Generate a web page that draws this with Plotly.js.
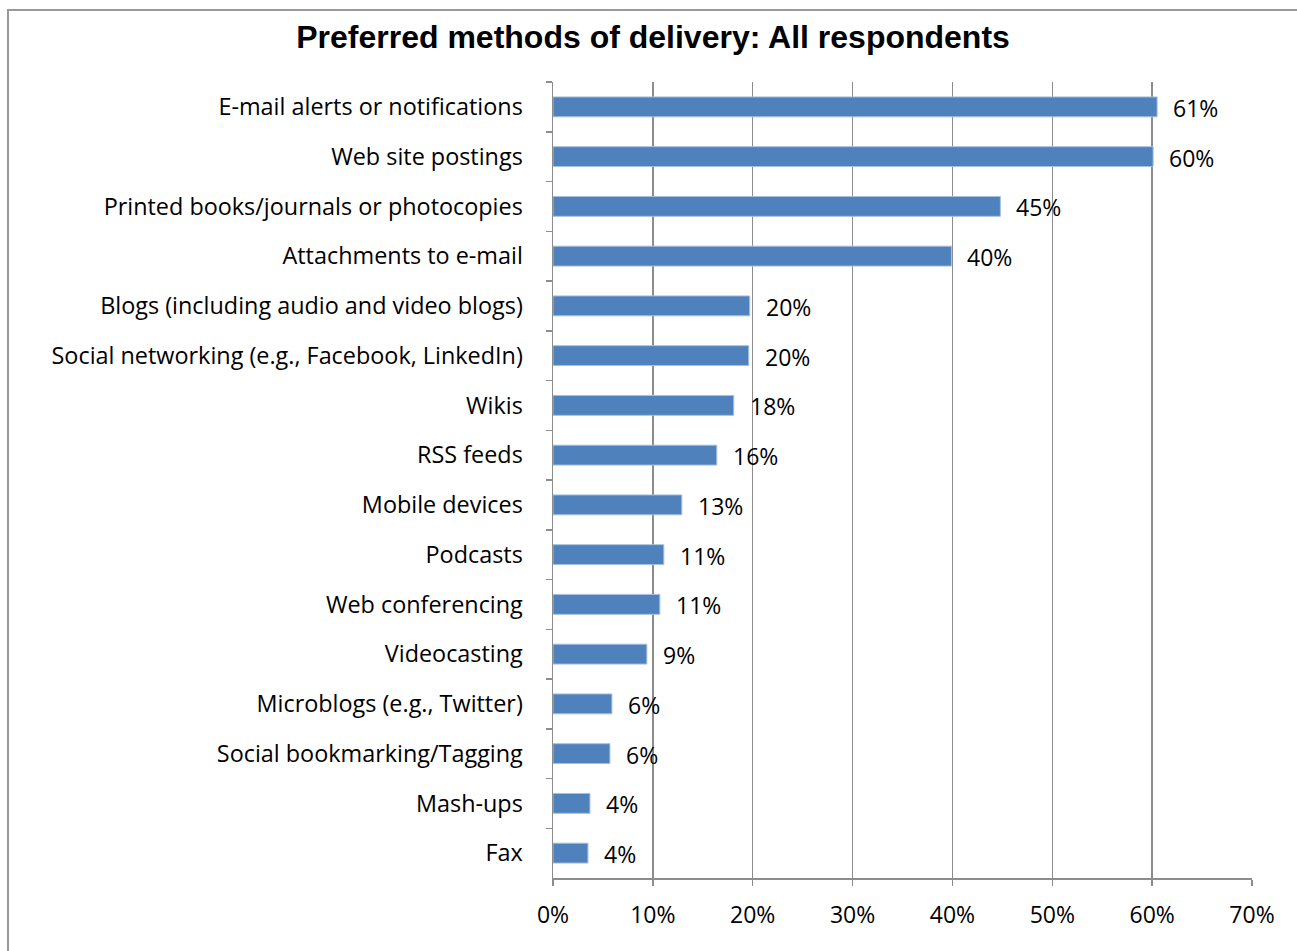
<!DOCTYPE html>
<html>
<head>
<meta charset="utf-8">
<script src="https://cdn.plot.ly/plotly-3.0.1.min.js"></script>
<style>
  html, body { margin: 0; padding: 0; background: #fff; }
  #wrap { position: relative; width: 1297px; height: 951px; overflow: hidden; }
  #frame { position: absolute; left: 7px; top: 9px; width: 1400px; height: 1000px; border: 2px solid #9a9a9a; box-sizing: border-box; }
  #chart { position: absolute; left: 0; top: 0; width: 1297px; height: 951px; }
</style>
</head>
<body>
<div id="wrap">
  <div id="frame"></div>
  <div id="chart"></div>
</div>
<script>
const categories = [
  "E-mail alerts or notifications",
  "Web site postings",
  "Printed books/journals or photocopies",
  "Attachments to e-mail",
  "Blogs (including audio and video blogs)",
  "Social networking (e.g., Facebook, LinkedIn)",
  "Wikis",
  "RSS feeds",
  "Mobile devices",
  "Podcasts",
  "Web conferencing",
  "Videocasting",
  "Microblogs (e.g., Twitter)",
  "Social bookmarking/Tagging",
  "Mash-ups",
  "Fax"
];
const values = [60.5, 60.1, 44.8, 39.9, 19.7, 19.6, 18.1, 16.4, 12.9, 11.1, 10.7, 9.4, 5.9, 5.7, 3.7, 3.5];
const valueLabels = ["61%", "60%", "45%", "40%", "20%", "20%", "18%", "16%", "13%", "11%", "11%", "9%", "6%", "6%", "4%", "4%"];
const xTickVals = [0, 10, 20, 30, 40, 50, 60, 70];
const xTickText = ["0%", "10%", "20%", "30%", "40%", "50%", "60%", "70%"];

const labelFont = { family: "'Open Sans', Lato, sans-serif", size: 23.4, color: "#000" };
const valueFont = { family: "'Open Sans', Lato, sans-serif", size: 23, color: "#000" };

const trace = {
  type: "bar",
  orientation: "h",
  x: values,
  y: categories,
  marker: { color: "#4F81BD", line: { color: "#A7C0DE", width: 1 } },
  hoverinfo: "skip"
};

const annotations = categories.map((c, i) => ({
  x: values[i], y: c, xref: "x", yref: "y",
  text: valueLabels[i], showarrow: false,
  xanchor: "left", yanchor: "middle", xshift: 14, yshift: -1,
  font: valueFont
}));

const layout = {
  width: 1297, height: 951,
  margin: { l: 553, r: 45, t: 82, b: 73 },
  paper_bgcolor: "rgba(0,0,0,0)",
  plot_bgcolor: "rgba(0,0,0,0)",
  showlegend: false,
  bargap: 0.6,
  title: {
    text: "<b>Preferred methods of delivery: All respondents</b>",
    font: { family: "'Liberation Sans', Arial, sans-serif", size: 32, color: "#000" },
    x: 0.5035, xanchor: "center", y: 0.961, yanchor: "middle"
  },
  xaxis: {
    range: [0, 70],
    tickvals: xTickVals, ticktext: xTickText,
    showgrid: true, gridcolor: "#8c8c8c", gridwidth: 1.5,
    showline: true, linecolor: "#8c8c8c", linewidth: 1.5,
    ticks: "outside", ticklen: 6, tickcolor: "#8c8c8c", tickwidth: 1.5,
    tickfont: valueFont, ticklabelstandoff: 10,
    zeroline: false, fixedrange: true
  },
  yaxis: {
    type: "category",
    autorange: "reversed",
    showline: true, linecolor: "#8c8c8c", linewidth: 1.5,
    ticks: "outside", ticklen: 6, tickcolor: "#8c8c8c", tickwidth: 1.5,
    tickson: "boundaries",
    tickfont: labelFont, ticklabelstandoff: 24,
    showgrid: false, zeroline: false, fixedrange: true
  },
  annotations: annotations
};

Plotly.newPlot("chart", [trace], layout, { displayModeBar: false, staticPlot: true });
</script>
</body>
</html>
